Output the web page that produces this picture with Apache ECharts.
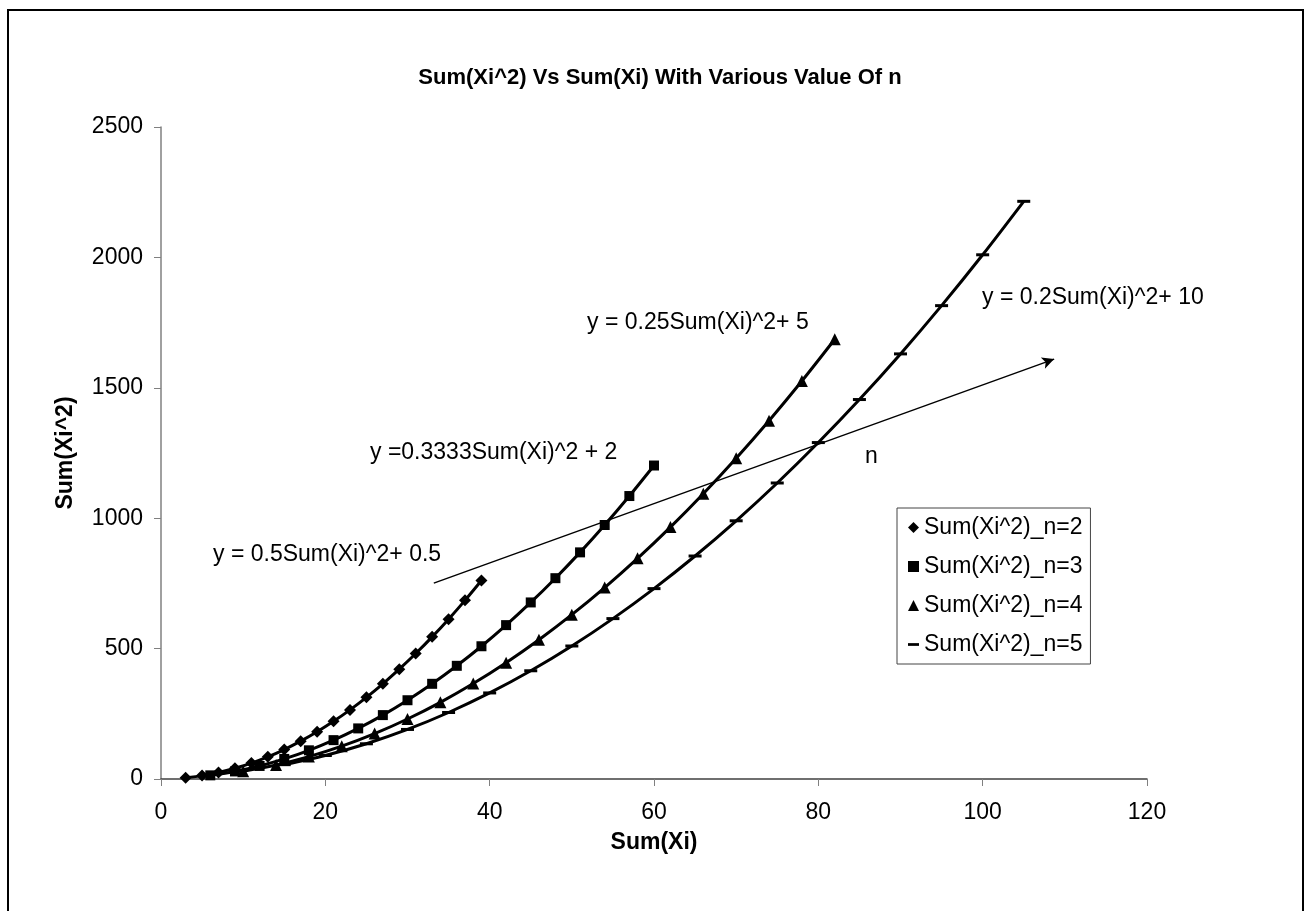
<!DOCTYPE html>
<html>
<head>
<meta charset="utf-8">
<script src="https://cdn.jsdelivr.net/npm/echarts@6/dist/echarts.min.js"></script>
<style>html,body{margin:0;padding:0;background:#fff;}#c{width:1305px;height:911px;}</style>
</head>
<body>
<div id="c"></div>
<script>
// Sum(Xi) values per series
const xN2 = [3,5,7,9,11,13,15,17,19,21,23,25,27,29,31,33,35,37,39];
const yN2 = [5,13,25,41,61,85,113,145,181,221,265,313,365,421,481,545,613,685,761];
const xN3 = [6,9,12,15,18,21,24,27,30,33,36,39,42,45,48,51,54,57,60];
const yN3 = [14,29,50,77,110,149,194,245,302,365,434,509,590,677,770,869,974,1085,1202];
const xN4 = [10,14,18,22,26,30,34,38,42,46,50,54,58,62,66,70,74,78,82];
const yN4 = [30,54,86,126,174,230,294,366,446,534,630,734,846,966,1094,1230,1374,1526,1686];
const xN5 = [15,20,25,30,35,40,45,50,55,60,65,70,75,80,85,90,95,100,105];
const yN5 = [55,90,135,190,255,330,415,510,615,730,855,990,1135,1290,1455,1630,1815,2010,2215];
const seriesNames = ['Sum(Xi^2)_n=2','Sum(Xi^2)_n=3','Sum(Xi^2)_n=4','Sum(Xi^2)_n=5'];
const arrowFrom = [33.2, 751];
const arrowTo = [108.7, 1610];
const xTicks = {min:0, max:120, interval:20};
const yTicks = {min:0, max:2500, interval:500};
const titleText = 'Sum(Xi^2) Vs Sum(Xi) With Various Value Of n';
const xName = 'Sum(Xi)';
const yName = 'Sum(Xi^2)';
const annotations = [
  {text:'y = 0.5Sum(Xi)^2+ 0.5', x:213, y:555},
  {text:'y =0.3333Sum(Xi)^2 + 2', x:370, y:453},
  {text:'y = 0.25Sum(Xi)^2+ 5', x:587, y:323},
  {text:'y = 0.2Sum(Xi)^2+ 10', x:982, y:298},
  {text:'n', x:865, y:457}
];

const FONT = '"Liberation Sans", Arial, sans-serif';
const zip = (xs, ys) => xs.map((v, i) => [v, ys[i]]);
const dashPath = 'path://M0,0M12,12M0,4.5L12,4.5L12,7.5L0,7.5Z';

const chart = echarts.init(document.getElementById('c'), null, {renderer:'canvas'});
const mk = (name, data, symbol, size) => ({
  name, type:'line', data, symbol, symbolSize:size, smooth:0.3,
  showAllSymbol:true,
  lineStyle:{color:'#000', width:3}, itemStyle:{color:'#000'},
  emphasis:{disabled:true}, z:3
});
const s5 = mk(seriesNames[3], zip(xN5, yN5), 'rect', [13,3]);
s5.markLine = {
  silent:true, symbol:['none','arrow'], symbolSize:[9,12],
  lineStyle:{color:'#000', width:1.5, type:'solid'}, label:{show:false},
  data:[[{coord:arrowFrom},{coord:arrowTo}]]
};
chart.setOption({
  animation:false,
  backgroundColor:'#fff',
  title:{text:titleText, left:655, top:62, textAlign:'center',
    textStyle:{fontFamily:FONT, fontWeight:'bold', fontSize:22, color:'#000'}},
  grid:{left:161, right:158, top:127, bottom:132},
  legend:{
    orient:'vertical', left:897, top:508,
    padding:[8,8,8,11], itemGap:16, itemWidth:11, itemHeight:11,
    borderColor:'#444', borderWidth:1, backgroundColor:'#fff',
    textStyle:{fontFamily:FONT, fontSize:23, color:'#000'},
    data:[
      {name:seriesNames[0], icon:'diamond'},
      {name:seriesNames[1], icon:'rect'},
      {name:seriesNames[2], icon:'triangle'},
      {name:seriesNames[3], icon:dashPath}
    ],
    selectedMode:false
  },
  xAxis:{type:'value', min:xTicks.min, max:xTicks.max, interval:xTicks.interval,
    name:xName, nameLocation:'middle', nameGap:52,
    nameTextStyle:{fontFamily:FONT, fontWeight:'bold', fontSize:23, color:'#000'},
    axisLine:{lineStyle:{color:'#404040', width:1.5}},
    axisTick:{show:true, length:7, lineStyle:{color:'#808080'}},
    axisLabel:{fontFamily:FONT, fontSize:23, color:'#000', margin:22,
      formatter:v => String(v)},
    splitLine:{show:false}},
  yAxis:{type:'value', min:yTicks.min, max:yTicks.max, interval:yTicks.interval,
    name:yName, nameLocation:'middle', nameGap:84,
    nameTextStyle:{fontFamily:FONT, fontWeight:'bold', fontSize:23, color:'#000'},
    axisLine:{show:true, lineStyle:{color:'#808080', width:1.5}},
    axisTick:{show:true, length:7, lineStyle:{color:'#808080'}},
    axisLabel:{fontFamily:FONT, fontSize:23, color:'#000', margin:18,
      formatter:v => String(v)},
    splitLine:{show:false}},
  series:[
    mk(seriesNames[0], zip(xN2, yN2), 'diamond', 12),
    mk(seriesNames[1], zip(xN3, yN3), 'rect', 10),
    mk(seriesNames[2], zip(xN4, yN4), 'triangle', 12),
    s5
  ],
  graphic:[
    {type:'rect', silent:true, z:-1, shape:{x:8, y:10, width:1295, height:920},
      style:{fill:'none', stroke:'#000', lineWidth:2}},
    ...annotations.map(a => ({type:'text', silent:true, x:a.x, y:a.y,
      style:{text:a.text, font:'23px ' + FONT, fill:'#000', verticalAlign:'middle'}}))
  ]
});
</script>
</body>
</html>
